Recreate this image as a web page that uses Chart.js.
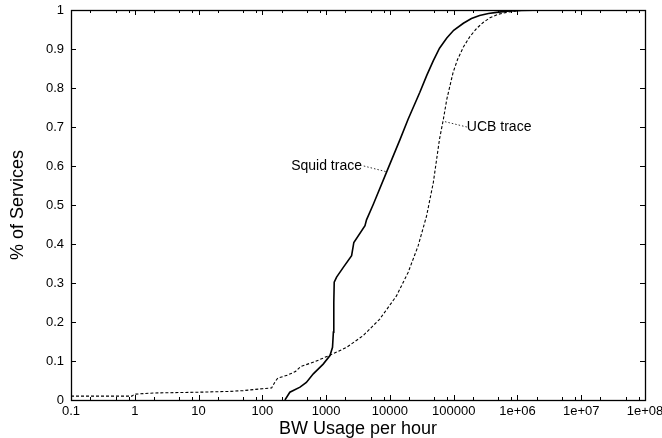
<!DOCTYPE html>
<html>
<head>
<meta charset="utf-8">
<script src="https://cdn.jsdelivr.net/npm/chart.js@4.4.1/dist/chart.umd.min.js"></script>
<style>
  html, body { margin: 0; padding: 0; background: #fff; }
  #wrap { width: 662px; height: 438px; }
</style>
</head>
<body>
<div id="wrap"><canvas id="chart"></canvas></div>
<script>
// --- Dados ---
const squidX = [226, 270, 390, 490, 630, 900, 1150, 1260, 1300, 1320, 1340, 1460, 1860, 2510, 2600, 2720, 4070, 4300, 5500, 8900, 14500, 19300, 29500, 38000, 48000, 60000, 78000, 100000, 142000, 190000, 255000, 350000, 470000, 700000, 1100000, 3000000, 100000000];
const squidY = [0, 0.02, 0.033, 0.045, 0.067, 0.092, 0.114, 0.135, 0.174, 0.25, 0.302, 0.315, 0.34, 0.37, 0.385, 0.404, 0.447, 0.462, 0.502, 0.585, 0.669, 0.72, 0.789, 0.833, 0.87, 0.902, 0.928, 0.948, 0.966, 0.978, 0.986, 0.991, 0.994, 0.997, 0.999, 1, 1];

const ucbX = [0.1, 0.9, 1.0, 2, 10, 30, 50, 100, 140, 160, 175, 250, 330, 400, 660, 1150, 2100, 3800, 6900, 12700, 19300, 27700, 37600, 48000, 60000, 69000, 78000, 98000, 115000, 142000, 180000, 230000, 290000, 370000, 500000, 680000, 1000000, 1500000, 100000000];
const ucbY = [0.01, 0.01, 0.015, 0.018, 0.02, 0.022, 0.024, 0.029, 0.031, 0.048, 0.056, 0.064, 0.073, 0.086, 0.098, 0.115, 0.135, 0.165, 0.207, 0.267, 0.327, 0.395, 0.472, 0.558, 0.669, 0.72, 0.771, 0.84, 0.873, 0.905, 0.932, 0.953, 0.968, 0.98, 0.989, 0.994, 0.998, 1, 1];

const xTickValues = [0.1, 1, 10, 100, 1000, 10000, 100000, 1e6, 1e7, 1e8];
const xTickLabels = ['0.1', '1', '10', '100', '1000', '10000', '100000', '1e+06', '1e+07', '1e+08'];
const xMinorSteps = [2, 5, 8];
const yTickValues = [0, 0.1, 0.2, 0.3, 0.4, 0.5, 0.6, 0.7, 0.8, 0.9, 1];
const yTickLabels = ['0', '0.1', '0.2', '0.3', '0.4', '0.5', '0.6', '0.7', '0.8', '0.9', '1'];

// rótulos das curvas: texto, ponto do texto, ponto onde a linha guia toca a curva
const labelTexts = ['Squid trace', 'UCB trace'];
const labelAt = [[3650, 0.6], [161000, 0.70]];
const leaderFrom = [[3900, 0.6], [161000, 0.70]];
const leaderTo = [[8970, 0.585], [67600, 0.715]];

const FONT = '"Liberation Sans", Arial, Helvetica, sans-serif';

const toPoints = (xs, ys) => xs.map((x, i) => ({ x: x, y: ys[i] }));

// zera o padding automático dos eixos, a área do gráfico fica só com layout.padding
function fixScale(scale, size) {
    if (scale.isHorizontal()) scale.height = size; else scale.width = size;
    scale.paddingTop = 0; scale.paddingBottom = 0;
    scale.paddingLeft = 0; scale.paddingRight = 0;
}

// --- Moldura e marcas internas, estilo gnuplot ---
const framePlugin = {
    id: 'frame',
    afterDatasetsDraw(chart) {
        const { ctx, chartArea: a, scales: { x, y } } = chart;
        ctx.save();
        ctx.strokeStyle = '#000';
        ctx.lineWidth = 1;
        ctx.beginPath();
        const vTick = (v, len) => {
            const px = Math.round(x.getPixelForValue(v)) + 0.5;
            ctx.moveTo(px, a.bottom); ctx.lineTo(px, a.bottom - len);
            ctx.moveTo(px, a.top); ctx.lineTo(px, a.top + len);
        };
        xTickValues.forEach((v, i) => {
            vTick(v, 5);
            if (i < xTickValues.length - 1) xMinorSteps.forEach(m => vTick(v * m, 3));
        });
        yTickValues.forEach(v => {
            const py = Math.round(y.getPixelForValue(v)) + 0.5;
            ctx.moveTo(a.left, py); ctx.lineTo(a.left + 5, py);
            ctx.moveTo(a.right, py); ctx.lineTo(a.right - 5, py);
        });
        ctx.stroke();
        ctx.lineWidth = 1.3;
        ctx.strokeRect(Math.round(a.left) + 0.5, Math.round(a.top) + 0.5,
            Math.round(a.right - a.left), Math.round(a.bottom - a.top));

        // rótulos com linha guia pontilhada
        ctx.font = '14px ' + FONT;
        ctx.fillStyle = '#000';
        ctx.textBaseline = 'middle';
        ctx.lineWidth = 0.8;
        ctx.setLineDash([1.5, 2]);
        labelTexts.forEach((t, i) => {
            ctx.beginPath();
            ctx.moveTo(x.getPixelForValue(leaderFrom[i][0]), y.getPixelForValue(leaderFrom[i][1]));
            ctx.lineTo(x.getPixelForValue(leaderTo[i][0]), y.getPixelForValue(leaderTo[i][1]));
            ctx.stroke();
            ctx.textAlign = i === 0 ? 'right' : 'left';
            ctx.fillText(t, x.getPixelForValue(labelAt[i][0]), y.getPixelForValue(labelAt[i][1]));
        });
        ctx.restore();
    }
};

const ctx = document.getElementById('chart').getContext('2d');
new Chart(ctx, {
    type: 'scatter',
    data: {
        datasets: [
            {
                label: 'Squid trace',
                data: toPoints(squidX, squidY),
                showLine: true,
                borderColor: '#000',
                borderWidth: 1.6,
                pointRadius: 0,
                tension: 0
            },
            {
                label: 'UCB trace',
                data: toPoints(ucbX, ucbY),
                showLine: true,
                borderColor: '#000',
                borderWidth: 1.1,
                borderDash: [3, 2],
                pointRadius: 0,
                tension: 0
            }
        ]
    },
    options: {
        responsive: true, maintainAspectRatio: false,
        animation: false,
        layout: { padding: { top: 10, right: 17, left: 0, bottom: 0 } },
        plugins: {
            legend: { display: false },
            tooltip: { enabled: false }
        },
        scales: {
            x: {
                type: 'logarithmic',
                min: 0.1, max: 1e8,
                afterBuildTicks: (scale) => { scale.ticks = xTickValues.map(v => ({ value: v })); },
                afterFit: (scale) => fixScale(scale, 38),
                grid: { display: false, drawTicks: false },
                border: { display: false },
                ticks: {
                    autoSkip: false, maxRotation: 0, padding: 4,
                    color: '#000', font: { family: FONT, size: 13 },
                    callback: (v) => xTickLabels[xTickValues.indexOf(v)] ?? ''
                },
                title: {
                    display: true, text: 'BW Usage per hour', color: '#000',
                    font: { family: FONT, size: 18, lineHeight: 1 },
                    padding: { top: 0, bottom: 0 }
                }
            },
            y: {
                min: 0, max: 1,
                afterBuildTicks: (scale) => { scale.ticks = yTickValues.map(v => ({ value: v })); },
                afterFit: (scale) => fixScale(scale, 71),
                grid: { display: false, drawTicks: false },
                border: { display: false },
                ticks: {
                    padding: 7, color: '#000', font: { family: FONT, size: 13 },
                    callback: (v) => yTickLabels[yTickValues.indexOf(v)] ?? ''
                },
                title: {
                    display: true, text: '% of Services', color: '#000',
                    font: { family: FONT, size: 18, lineHeight: 1 },
                    padding: { top: 9, bottom: 0 }
                }
            }
        }
    },
    plugins: [framePlugin]
});
</script>
</body>
</html>
